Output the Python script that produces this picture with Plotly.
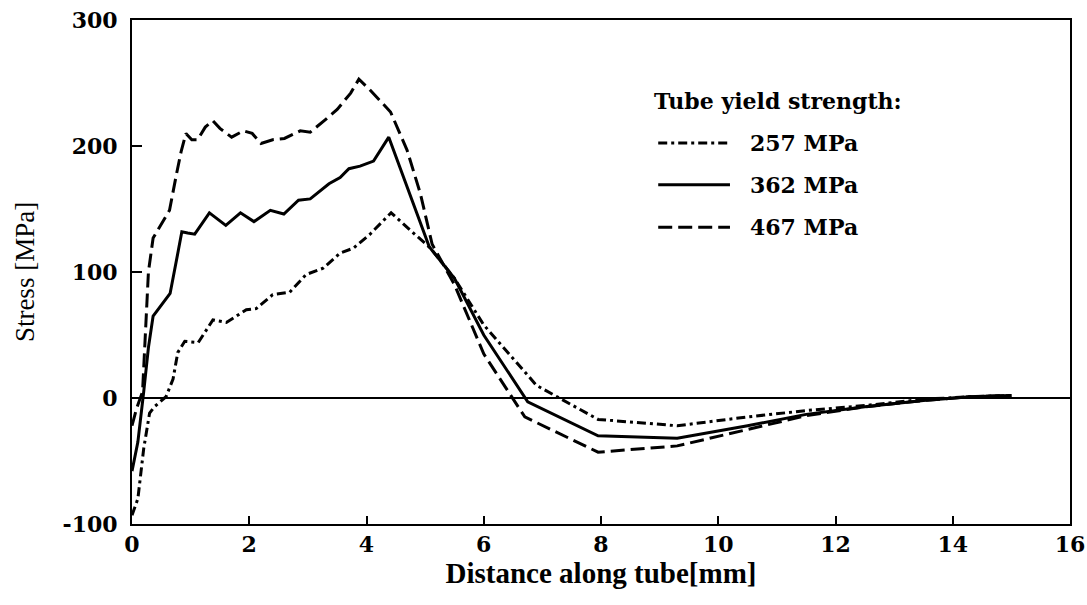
import plotly.graph_objects as go

# 467 MPa (dashed)
x_467 = [0.0, 0.08, 0.18, 0.28, 0.36, 0.53, 0.64, 0.76, 0.84, 0.92, 1.02, 1.12, 1.25, 1.38, 1.5, 1.7, 1.9, 2.05, 2.2, 2.4, 2.6, 2.87, 3.04, 3.3, 3.5, 3.73, 3.87, 4.05, 4.41, 4.69, 4.92, 5.12, 5.5, 6.0, 6.7, 7.95, 9.3, 10.5, 11.5, 12.5, 13.5, 14.3, 15.0]
y_467 = [-22, -8, 5, 100, 127, 140, 149, 178, 196, 210, 205, 205, 215, 220, 214, 207, 212, 210, 202, 205, 206, 212, 211, 221, 229, 242, 253, 245, 227, 197, 162, 122, 90, 35, -15, -43, -38, -25, -14, -7, -2, 1, 2]

# 362 MPa (solid)
x_362 = [0.0, 0.1, 0.2, 0.28, 0.36, 0.5, 0.65, 0.79, 0.85, 0.95, 1.07, 1.32, 1.6, 1.85, 2.08, 2.36, 2.59, 2.84, 3.04, 3.36, 3.55, 3.7, 3.89, 4.12, 4.38, 5.07, 5.5, 6.0, 6.75, 7.95, 9.3, 10.5, 11.5, 12.5, 13.5, 14.3, 15.0]
y_362 = [-58, -35, 5, 40, 65, 74, 83, 117, 132, 131, 130, 147, 137, 147, 140, 149, 146, 157, 158, 170, 175, 182, 184, 188, 207, 120, 95, 50, -3, -30, -32, -22, -13, -7, -2, 1, 2]

# 257 MPa (dash-dot)
x_257 = [0.0, 0.1, 0.2, 0.3, 0.38, 0.5, 0.58, 0.7, 0.78, 0.9, 1.13, 1.38, 1.61, 1.95, 2.12, 2.4, 2.69, 2.97, 3.26, 3.55, 3.78, 4.06, 4.42, 4.75, 5.09, 5.5, 6.0, 6.9, 7.95, 9.3, 10.5, 11.5, 12.5, 13.5, 14.3, 15.0]
y_257 = [-93, -80, -40, -12, -7, -2, 1, 15, 36, 45, 44, 62, 60, 70, 71, 82, 84, 98, 103, 115, 119, 130, 147, 133, 119, 95, 58, 10, -17, -22, -15, -10, -6, -1, 1, 2]

legend_labels = ["257 MPa", "362 MPa", "467 MPa"]
legend_title = "Tube yield strength:"

x_ticks = [0, 2, 4, 6, 8, 10, 12, 14, 16]
y_ticks = [-100, 0, 100, 200, 300]

SERIF = "Liberation Serif"
WIDE = "DejaVu Serif"
dashes = {"257 MPa": "9px,4px,3px,4px", "362 MPa": "solid", "467 MPa": "14px,6px"}

fig = go.Figure()
for xs, ys, name in [(x_257, y_257, "257 MPa"), (x_362, y_362, "362 MPa"), (x_467, y_467, "467 MPa")]:
    fig.add_trace(go.Scatter(x=xs, y=ys, mode="lines", name=name, showlegend=False,
                             line=dict(color="black", width=3, dash=dashes[name])))

# custom legend (sample lines + text) in paper coordinates
fig.add_annotation(x=0.554, y=0.839, xref="paper", yref="paper", text="<b>" + legend_title + "</b>", showarrow=False,
                   xanchor="left", yanchor="middle", font=dict(family=WIDE, size=22, color="black"))
rows_y = [0.756, 0.673, 0.589]
for lab, ry in zip(legend_labels, rows_y):
    fig.add_shape(type="line", xref="paper", yref="paper", x0=0.561, x1=0.6375, y0=ry, y1=ry,
                  line=dict(color="black", width=3, dash=dashes[lab]))
    fig.add_annotation(x=0.657, y=ry, xref="paper", yref="paper", text="<b>" + lab + "</b>", showarrow=False,
                       xanchor="left", yanchor="middle", font=dict(family=WIDE, size=22, color="black"))

fig.update_layout(
    width=1087, height=605,
    margin=dict(l=132, r=17, t=20, b=81),
    paper_bgcolor="white", plot_bgcolor="white",
    font=dict(family=SERIF, color="black"),
    showlegend=False,
)
fig.update_xaxes(range=[0, 16], tickvals=x_ticks, ticktext=["<b>%d</b>" % v for v in x_ticks],
                 showline=True, linecolor="black", linewidth=2, mirror=True,
                 ticks="inside", ticklen=8, tickwidth=1.5, tickcolor="black",
                 showgrid=False, zeroline=False, automargin=False,
                 tickfont=dict(family=WIDE, size=22, color="black"),
                 title=dict(text="<b>Distance along tube[mm]</b>", font=dict(family=SERIF, size=29, color="black"), standoff=4))
fig.update_yaxes(range=[-100, 300], tickvals=y_ticks, ticktext=["<b>%d</b>" % v for v in y_ticks],
                 showline=True, linecolor="black", linewidth=2, mirror=True,
                 ticks="inside", ticklen=10, tickwidth=1.5, tickcolor="black",
                 ticklabelstandoff=8,
                 showgrid=False, zeroline=True, zerolinecolor="black", zerolinewidth=1.5, automargin=False,
                 tickfont=dict(family=WIDE, size=22, color="black"),
                 title=dict(text="Stress [MPa]", font=dict(family=SERIF, size=27, color="black"), standoff=20))

fig.write_html("out.html")
